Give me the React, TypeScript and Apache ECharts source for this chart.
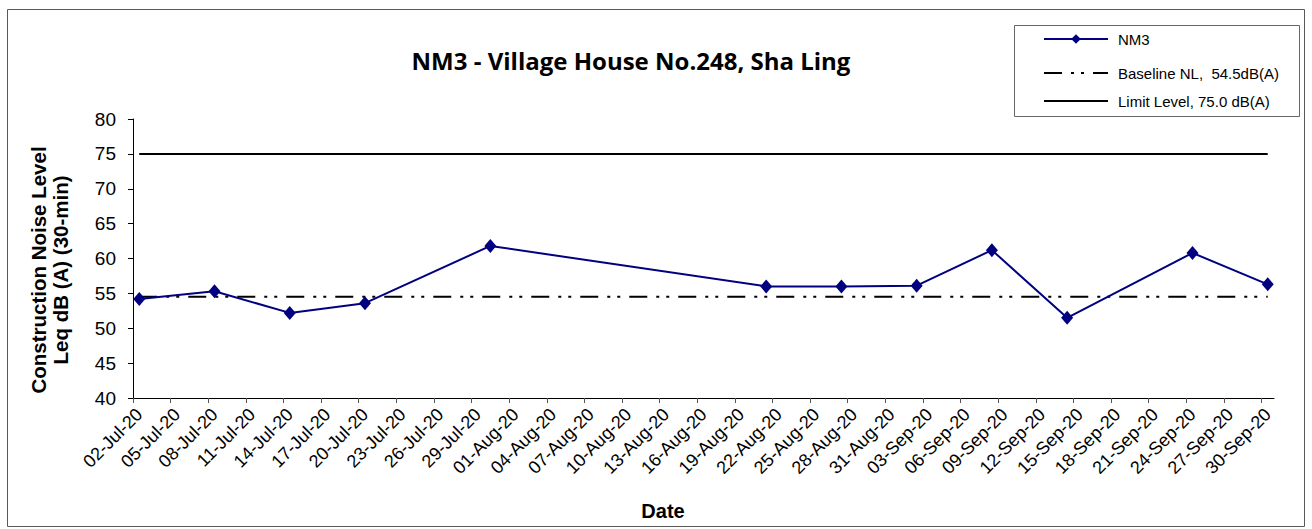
import React, { useEffect, useRef } from 'react';
import * as echarts from 'echarts';

// ---- data ----
const sampleDates = [
  '2020-07-02', '2020-07-08', '2020-07-14', '2020-07-20', '2020-07-30',
  '2020-08-21', '2020-08-27', '2020-09-02', '2020-09-08', '2020-09-14',
  '2020-09-24', '2020-09-30',
];
const nm3Values = [54.2, 55.3, 52.2, 53.6, 61.8, 56.0, 56.0, 56.1, 61.2, 51.5, 60.8, 56.3];
const baselineValue = 54.5;
const limitValue = 75.0;
const axisStartDate = '2020-07-02';
const axisEndDate = '2020-10-01';
const tickStepDays = 3;
const seriesNames = ['NM3', 'Baseline NL,  54.5dB(A)', 'Limit Level, 75.0 dB(A)'];
const titleText = 'NM3 - Village House No.248, Sha Ling';
const yAxisTitle = 'Construction Noise Level\nLeq dB (A) (30-min)';
const xAxisTitle = 'Date';
const MONTHS = ['Jan', 'Feb', 'Mar', 'Apr', 'May', 'Jun', 'Jul', 'Aug', 'Sep', 'Oct', 'Nov', 'Dec'];

const DAY = 86400000;
const startMs = Date.parse(axisStartDate + 'T00:00:00Z');
const dayOffset = (d: string) => (Date.parse(d + 'T00:00:00Z') - startMs) / DAY;
const pad2 = (n: number) => (n < 10 ? '0' + n : '' + n);
const fmtDay = (v: number) => {
  const dt = new Date(startMs + Math.round(v) * DAY);
  return pad2(dt.getUTCDate()) + '-' + MONTHS[dt.getUTCMonth()] + '-' + String(dt.getUTCFullYear()).slice(2);
};

const axisMax = dayOffset(axisEndDate);
const tickValues: number[] = [];
for (let d = 0; d < axisMax; d += tickStepDays) tickValues.push(d);

// points sit in the middle of their day bucket
const nm3Data = sampleDates.map((d, i) => [dayOffset(d) + 0.5, nm3Values[i]]);
const firstX = dayOffset(sampleDates[0]) + 0.5;
const lastX = dayOffset(sampleDates[sampleDates.length - 1]) + 0.5;
const baselineData = [[firstX, baselineValue], [lastX, baselineValue]];
const limitData = [[firstX, limitValue], [lastX, limitValue]];

const FONT = '"Liberation Sans", Arial, sans-serif';

export default function App() {
  const ref = useRef<HTMLDivElement>(null);
  useEffect(() => {
    document.body.style.margin = '0';
    if (!ref.current) return;
    const chart = echarts.init(ref.current, null, { renderer: 'svg' });
    const legendBase = {
      orient: 'vertical',
      left: 1043,
      padding: 0,
      itemWidth: 64,
      itemHeight: 12,
      textStyle: { fontFamily: FONT, fontSize: 15, color: '#000', lineHeight: 18, padding: [0, 0, 0, 5] },
    };
    chart.setOption({
      animation: false,
      backgroundColor: '#fff',
      grid: { left: 133, right: 38, top: 119, bottom: 131 },
      graphic: [
        {
          type: 'rect', z: -10, silent: true,
          shape: { x: 7.5, y: 9.5, width: 1297, height: 517 },
          style: { fill: '#fff', stroke: '#595959', lineWidth: 1 },
        },
        {
          type: 'rect', z: -5, silent: true,
          shape: { x: 1014.5, y: 25.5, width: 285, height: 91 },
          style: { fill: '#fff', stroke: '#666', lineWidth: 1 },
        },
        {
          type: 'text', x: 631, y: 60,
          style: {
            text: titleText, fontFamily: '"Open Sans", sans-serif', fontWeight: 'bold', fontSize: 24,
            fill: '#000', textAlign: 'center', textVerticalAlign: 'middle',
          },
        },
        {
          type: 'text', x: 49, y: 270, rotation: Math.PI / 2,
          style: {
            text: yAxisTitle, fontFamily: FONT, fontWeight: 'bold', fontSize: 20.5, lineHeight: 22,
            fill: '#000', textAlign: 'center', textVerticalAlign: 'middle',
          },
        },
        {
          type: 'text', x: 663, y: 511,
          style: {
            text: xAxisTitle, fontFamily: FONT, fontWeight: 'bold', fontSize: 20,
            fill: '#000', textAlign: 'center', textVerticalAlign: 'middle',
          },
        },
      ],
      legend: [
        { ...legendBase, top: 30, data: [seriesNames[0]] },
        { ...legendBase, top: 64, data: [seriesNames[1]], itemStyle: { opacity: 0 } },
        { ...legendBase, top: 92, data: [seriesNames[2]], itemStyle: { opacity: 0 } },
      ],
      xAxis: {
        type: 'value',
        min: 0,
        max: axisMax,
        splitLine: { show: false },
        axisLine: { lineStyle: { color: '#000', width: 1 } },
        axisTick: { show: true, length: 5, lineStyle: { color: '#555' }, customValues: tickValues },
        axisLabel: {
          customValues: tickValues,
          rotate: 45,
          margin: 7,
          verticalAlign: 'top',
          fontFamily: FONT,
          fontSize: 18,
          color: '#000',
          formatter: (v: number) => fmtDay(v),
        },
      },
      yAxis: {
        type: 'value',
        min: 40,
        max: 80,
        interval: 5,
        splitLine: { show: false },
        axisLine: { show: true, lineStyle: { color: '#000', width: 1 } },
        axisTick: { show: true, length: 5, lineStyle: { color: '#000' } },
        axisLabel: { margin: 17, fontFamily: FONT, fontSize: 19, color: '#000' },
      },
      series: [
        {
          name: seriesNames[2],
          type: 'line',
          data: limitData,
          symbol: 'none',
          lineStyle: { color: '#000', width: 2 },
          itemStyle: { color: '#000' },
        },
        {
          name: seriesNames[1],
          type: 'line',
          data: baselineData,
          symbol: 'none',
          lineStyle: { color: '#000', width: 2, type: [18, 9, 3, 7, 3, 9] },
          itemStyle: { color: '#000' },
        },
        {
          name: seriesNames[0],
          type: 'line',
          data: nm3Data,
          symbol: 'diamond',
          symbolSize: [12, 14],
          lineStyle: { color: '#000080', width: 2 },
          itemStyle: { color: '#000080' },
        },
      ],
    });
    return () => chart.dispose();
  }, []);
  return <div ref={ref} style={{ position: 'fixed', left: 0, top: 0, width: 1312, height: 529 }} />;
}
